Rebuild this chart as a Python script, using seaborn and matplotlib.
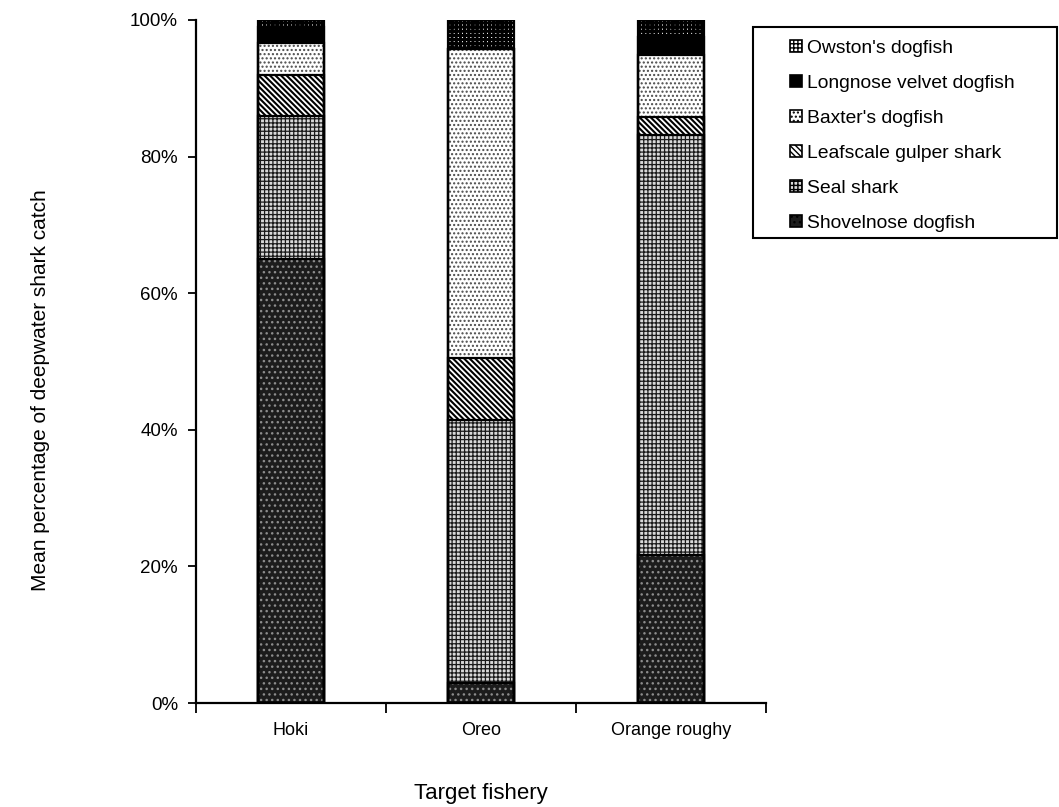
import matplotlib
matplotlib.use("Agg")
import matplotlib.pyplot as plt
from matplotlib.patches import Patch, Rectangle
from matplotlib.ticker import FuncFormatter
import numpy as np
import pandas as pd
import seaborn as sns

# Mean percentage of deepwater shark catch by target fishery
fisheries = ["Hoki", "Oreo", "Orange roughy"]
species = ["Shovelnose dogfish", "Seal shark", "Leafscale gulper shark",
           "Baxter's dogfish", "Longnose velvet dogfish", "Owston's dogfish"]
shovelnose = [65.0, 3.0, 21.7]
seal_shark = [21.0, 38.5, 61.5]
leafscale = [6.0, 9.0, 2.6]
baxters = [4.7, 45.3, 9.1]
longnose = [2.3, 0.0, 2.6]
owstons = [1.0, 4.2, 2.5]
y_ticks = [0, 20, 40, 60, 80, 100]

series = [shovelnose, seal_shark, leafscale, baxters, longnose, owstons]

# fill pattern per species: face colour, hatch, hatch colour, hatch width
styles = {
    "Shovelnose dogfish": ("#1c1c1c", "...", "#8c8c8c", 1.0),
    "Seal shark": ("#d9d9d9", "++++", "#1a1a1a", 0.9),
    "Leafscale gulper shark": ("white", "\\\\\\\\\\\\", "#000000", 1.5),
    "Baxter's dogfish": ("white", "....", "#4a4a4a", 1.0),
    "Longnose velvet dogfish": ("black", "", "black", 1.0),
    "Owston's dogfish": ("white", "++++", "#000000", 2.2),
}

sns.set_style("ticks")
plt.rcParams["font.family"] = ["Liberation Sans", "DejaVu Sans"]
plt.rcParams["hatch.linewidth"] = 1.0
plt.rcParams["text.color"] = "black"
plt.rcParams["xtick.color"] = "black"
plt.rcParams["ytick.color"] = "black"

df = pd.DataFrame({"fishery": fisheries})
for name, vals in zip(species, series):
    df[name] = vals
cum = df[species].cumsum(axis=1)

fig = plt.figure(figsize=(10.59, 8.07), dpi=100)
ax = fig.add_axes([196 / 1059, 1 - 703 / 807, (766 - 196) / 1059, (703 - 20) / 807])

BAR_W = 0.35
fill_patches = []
# draw cumulative totals from the top layer down so each lower layer overlays
for name in reversed(species):
    face, hatch, hcol, hlw = styles[name]
    before = len(ax.patches)
    sns.barplot(x=df["fishery"], y=cum[name], order=fisheries, width=BAR_W,
                color="white", saturation=1, errorbar=None, ax=ax)
    for p in ax.patches[before:]:
        p.set_facecolor(face)
        p.set_hatch(hatch)
        p.set_edgecolor(hcol)
        p.set_linewidth(0)
        if hasattr(p, "set_hatch_linewidth"):
            p.set_hatch_linewidth(hlw)
        fill_patches.append(p)

# black outlines around every segment
for p in list(fill_patches):
    r = Rectangle((p.get_x(), p.get_y()), p.get_width(), p.get_height(),
                  fill=False, edgecolor="black", linewidth=1.6, zorder=3)
    ax.add_patch(r)

ax.set_xlim(-0.5, 2.5)
ax.set_ylim(0, 100)
ax.set_yticks(y_ticks)
ax.yaxis.set_major_formatter(FuncFormatter(lambda v, _: f"{v:.0f}%"))
ax.tick_params(axis="y", direction="out", length=6, width=1.3, pad=7,
               labelsize=13.5, colors="black")

# category boundaries carry tick marks, labels sit at category centres
ax.set_xticks([-0.5, 0.5, 1.5, 2.5])
ax.set_xticklabels([])
ax.set_xticks([0, 1, 2], minor=True)
ax.set_xticklabels(fisheries, minor=True)
ax.tick_params(axis="x", which="major", direction="out", length=7, width=1.3)
ax.tick_params(axis="x", which="minor", length=0, pad=14, labelsize=13,
               colors="black")
ax.set_xlabel("")
ax.set_ylabel("")

sns.despine(ax=ax)
for s in ("left", "bottom"):
    ax.spines[s].set_linewidth(1.6)
    ax.spines[s].set_color("black")

fig.text(481 / 1059, 1 - 793 / 807, "Target fishery", ha="center", va="center",
         fontsize=16)
fig.text(41 / 1059, 1 - 390 / 807, "Mean percentage of deepwater shark catch",
         ha="center", va="center", rotation=90, fontsize=15)

# legend, top layer first
handles = []
for name in reversed(species):
    face, hatch, hcol, hlw = styles[name]
    hp = Patch(facecolor=face, hatch=hatch, edgecolor="black", linewidth=1.2,
               label=name)
    handles.append(hp)

x0, x1, y0, y1 = 753, 1057, 27, 238
fig.patches.append(Rectangle((x0 / 1059, 1 - y1 / 807), (x1 - x0) / 1059,
                             (y1 - y0) / 807, transform=fig.transFigure,
                             fill=False, edgecolor="black", linewidth=1.5))
leg = fig.legend(handles=handles, loc="upper left",
                 bbox_to_anchor=(790 / 1059, 1 - 40 / 807),
                 frameon=False, fontsize=13.9, handlelength=0.6,
                 handleheight=0.6, handletextpad=0.3, labelspacing=0.93,
                 borderaxespad=0, borderpad=0)

fig.savefig("out.png", dpi=100, facecolor="white")
